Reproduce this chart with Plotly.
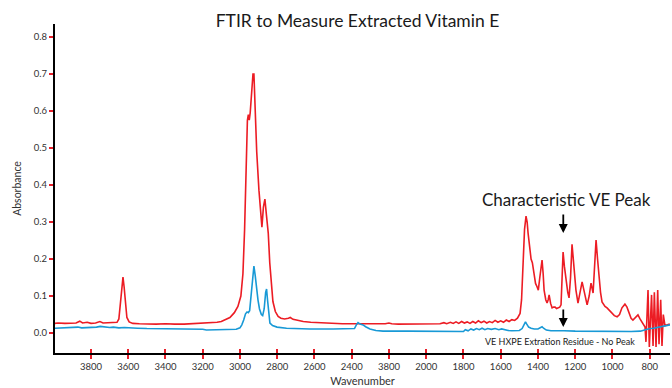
import plotly.graph_objects as go

# ---------------- data ----------------
red_wn = [3993, 3977, 3940, 3900, 3880, 3860, 3845, 3820, 3800, 3775, 3752, 3735, 3710, 3685, 3660,
          3650, 3642, 3634, 3628, 3622, 3615, 3607, 3595, 3575, 3540, 3500, 3450, 3400, 3380, 3350,
          3300, 3250, 3215, 3180, 3150, 3123, 3100, 3080, 3054, 3030, 3011, 2995, 2984, 2975, 2967,
          2960, 2955, 2950, 2945, 2938, 2930, 2925, 2918, 2910, 2898, 2890, 2882, 2874, 2866, 2858,
          2848, 2840, 2833, 2823, 2810, 2795, 2780, 2760, 2740, 2730, 2715, 2690, 2660, 2620, 2560,
          2500, 2450, 2400, 2372, 2340, 2300, 2250, 2220, 2200, 2185, 2150, 2100, 2050, 2000, 1950,
          1926, 1905, 1890, 1870, 1855, 1840, 1825, 1810, 1795, 1780, 1765, 1750, 1735, 1720, 1705,
          1690, 1675, 1660, 1645, 1630, 1615, 1600, 1585, 1570, 1555, 1540, 1525, 1510, 1496, 1488,
          1480, 1472, 1464, 1458, 1453, 1445, 1437, 1430, 1421, 1413, 1405, 1398, 1390, 1378, 1372,
          1367, 1358, 1351, 1345, 1340, 1332, 1324, 1316, 1308, 1300, 1292, 1283, 1276, 1270, 1265,
          1258, 1249, 1240, 1233, 1225, 1217, 1210, 1203, 1196, 1185, 1175, 1163, 1155, 1147, 1136,
          1125, 1115, 1104, 1095, 1088, 1080, 1072, 1064, 1056, 1040, 1029, 1015, 1002, 990, 975,
          962, 949, 933, 922, 911, 900, 890, 875, 863, 852, 842, 830, 825, 820, 809,
          802, 790, 782, 775, 766, 757, 750, 741, 734, 727, 718, 705, 692]
red_abs = [0.026, 0.027, 0.026, 0.028, 0.027, 0.032, 0.027, 0.029, 0.026, 0.027, 0.031, 0.027, 0.028, 0.027, 0.029,
           0.038, 0.075, 0.128, 0.151, 0.125, 0.075, 0.042, 0.030, 0.026, 0.025, 0.024, 0.024, 0.025, 0.024, 0.024,
           0.024, 0.025, 0.026, 0.027, 0.027, 0.029, 0.031, 0.035, 0.042, 0.055, 0.072, 0.100, 0.160, 0.280, 0.460,
           0.575, 0.590, 0.575, 0.595, 0.650, 0.700, 0.700, 0.600, 0.490, 0.386, 0.330, 0.286, 0.340, 0.362, 0.320,
           0.270, 0.190, 0.143, 0.085, 0.058, 0.045, 0.040, 0.038, 0.040, 0.042, 0.037, 0.034, 0.031, 0.029, 0.027,
           0.026, 0.025, 0.025, 0.025, 0.024, 0.024, 0.024, 0.025, 0.027, 0.025, 0.024, 0.024, 0.024, 0.024, 0.024,
           0.025, 0.028, 0.025, 0.029, 0.026, 0.030, 0.026, 0.031, 0.027, 0.030, 0.026, 0.031, 0.027, 0.033, 0.028,
           0.032, 0.027, 0.031, 0.028, 0.034, 0.029, 0.033, 0.029, 0.035, 0.031, 0.036, 0.034, 0.040, 0.053, 0.090,
           0.190, 0.280, 0.316, 0.300, 0.270, 0.225, 0.200, 0.190, 0.152, 0.134, 0.125, 0.116, 0.150, 0.197, 0.160,
           0.116, 0.090, 0.081, 0.090, 0.103, 0.080, 0.068, 0.070, 0.070, 0.066, 0.068, 0.070, 0.076, 0.150, 0.219,
           0.180, 0.143, 0.110, 0.095, 0.150, 0.240, 0.200, 0.150, 0.116, 0.081, 0.110, 0.138, 0.120, 0.103, 0.076,
           0.100, 0.135, 0.108, 0.190, 0.251, 0.200, 0.143, 0.110, 0.084, 0.072, 0.068, 0.060, 0.054, 0.047, 0.044,
           0.050, 0.068, 0.078, 0.070, 0.054, 0.040, 0.035, 0.043, 0.049, 0.038, 0.030, 0.020, 0.016, -0.024, 0.116,
           -0.038, 0.103, -0.035, 0.110, -0.038, 0.116, -0.030, 0.090, -0.035, 0.050, 0.020, 0.022, 0.024]

blue_wn = [3993, 3950, 3900, 3870, 3850, 3820, 3800, 3770, 3750, 3730, 3700, 3680, 3650, 3620, 3600,
           3550, 3500, 3400, 3300, 3250, 3200, 3180, 3100, 3050, 3020, 3000, 2990, 2980, 2970, 2962,
           2955, 2948, 2940, 2932, 2925, 2918, 2910, 2903, 2895, 2885, 2878, 2870, 2862, 2857, 2852,
           2845, 2839, 2825, 2801, 2750, 2700, 2624, 2500, 2400, 2385, 2375, 2366, 2355, 2339, 2325,
           2302, 2270, 2232, 2100, 2000, 1900, 1830, 1818, 1800, 1790, 1775, 1760, 1745, 1730, 1715,
           1700, 1685, 1670, 1650, 1630, 1610, 1595, 1575, 1560, 1540, 1520, 1500, 1485, 1475, 1467,
           1460, 1450, 1437, 1420, 1400, 1385, 1378, 1370, 1355, 1330, 1290, 1270, 1260, 1200, 1100,
           1000, 900, 850, 820, 800, 780, 760, 740, 720, 700, 691]
blue_abs = [0.013, 0.014, 0.014, 0.016, 0.014, 0.015, 0.014, 0.016, 0.018, 0.016, 0.015, 0.016, 0.014, 0.015, 0.014,
            0.013, 0.012, 0.012, 0.012, 0.011, 0.010, 0.008, 0.008, 0.008, 0.010, 0.014, 0.022, 0.035, 0.052, 0.057,
            0.055, 0.060, 0.100, 0.160, 0.181, 0.155, 0.110, 0.089, 0.065, 0.050, 0.047, 0.065, 0.110, 0.119, 0.090,
            0.045, 0.027, 0.020, 0.016, 0.013, 0.012, 0.011, 0.011, 0.011, 0.012, 0.022, 0.028, 0.024, 0.022, 0.017,
            0.011, 0.007, 0.005, 0.005, 0.005, 0.005, 0.005, 0.003, 0.004, 0.009, 0.006, 0.011, 0.008, 0.012, 0.009,
            0.013, 0.009, 0.012, 0.010, 0.012, 0.009, 0.011, 0.008, 0.007, 0.006, 0.006, 0.007, 0.012, 0.022, 0.030,
            0.024, 0.016, 0.013, 0.011, 0.011, 0.014, 0.017, 0.013, 0.008, 0.006, 0.006, 0.008, 0.006, 0.005, 0.004,
            0.004, 0.004, 0.005, 0.010, 0.012, 0.013, 0.015, 0.017, 0.019, 0.022, 0.022]

x_tickvals = [3800, 3600, 3400, 3200, 3000, 2800, 2600, 2400, 2200, 2000, 1800, 1600, 1400, 1200, 1000, 800]
x_ticktext = ["3800", "3600", "3400", "3200", "3000", "2800", "2600", "2400", "3800", "2000",
              "1800", "1600", "1400", "1200", "1000", "800"]
y_tickvals = [0.0, 0.1, 0.2, 0.3, 0.4, 0.5, 0.6, 0.7, 0.8]
y_ticktext = ["0.0", "0.1", "0.2", "0.3", "0.4", "0.5", "0.6", "0.7", "0.8"]

# ---------------- styling ----------------
RED = "#ec1c24"
BLUE = "#1899d6"
TICK_RED = "#e8202a"
FONT = "Lato"
X_RANGE = [3993, 691]
Y_RANGE = [-0.054, 0.835]

fig = go.Figure()
fig.add_trace(go.Scatter(x=red_wn, y=red_abs, mode="lines",
                         line=dict(color=RED, width=1.6), showlegend=False, hoverinfo="skip"))
fig.add_trace(go.Scatter(x=blue_wn, y=blue_abs, mode="lines", xaxis="x2",
                         line=dict(color=BLUE, width=1.6), showlegend=False, hoverinfo="skip"))

fig.update_layout(
    width=672, height=388,
    margin=dict(l=55, r=2, t=24, b=35),
    paper_bgcolor="white", plot_bgcolor="white",
    font=dict(family=FONT, color="#333333"),
    showlegend=False,
    title=dict(text="FTIR to Measure Extracted Vitamin E", x=357.5 / 672, xref="container",
               xanchor="center", y=1 - 21 / 388, yref="container", yanchor="middle",
               font=dict(family=FONT, size=17.5, color="#1a1a1a")),
    xaxis=dict(range=X_RANGE, tickmode="array", tickvals=x_tickvals, ticktext=x_ticktext,
               ticks="outside", ticklen=4, tickwidth=2, tickcolor=TICK_RED,
               showline=True, linecolor="black", linewidth=2, showgrid=False, zeroline=False,
               tickfont=dict(size=9.5, color="#333333"),
               title=dict(text="Wavenumber", font=dict(size=11, color="#333333"), standoff=6)),
    xaxis2=dict(range=X_RANGE, overlaying="x", anchor="y", side="bottom", matches="x",
                tickmode="array", tickvals=x_tickvals, ticks="inside", ticklen=4, tickwidth=2,
                tickcolor=TICK_RED, showticklabels=False, showline=False, showgrid=False,
                zeroline=False),
    yaxis=dict(range=Y_RANGE, tickmode="array", tickvals=y_tickvals, ticktext=y_ticktext,
               ticks="outside", ticklen=4, tickwidth=2, tickcolor=TICK_RED,
               showline=True, linecolor="black", linewidth=2, showgrid=False, zeroline=False,
               tickfont=dict(size=9.5, color="#333333"),
               title=dict(text="Absorbance", font=dict(size=10.5, color="#333333"), standoff=10)),
)

# annotations
fig.add_annotation(x=1249, y=0.362, xref="x", yref="y", text="Characteristic VE Peak",
                   showarrow=False, font=dict(family=FONT, size=17, color="#1a1a1a"))
fig.add_annotation(x=1264, y=0.27, xref="x", yref="y", ax=0, ay=-20, text="",
                   showarrow=True, arrowhead=2, arrowsize=1, arrowwidth=1.8, arrowcolor="black")
fig.add_annotation(x=1264, y=0.016, xref="x", yref="y", ax=0, ay=-19, text="",
                   showarrow=True, arrowhead=2, arrowsize=1, arrowwidth=1.8, arrowcolor="black")
fig.add_annotation(x=1281, y=-0.024, xref="x", yref="y", text="VE HXPE Extration Residue - No Peak",
                   showarrow=False, font=dict(family=FONT, size=9, color="#1a1a1a"))

fig.write_html("out.html")
